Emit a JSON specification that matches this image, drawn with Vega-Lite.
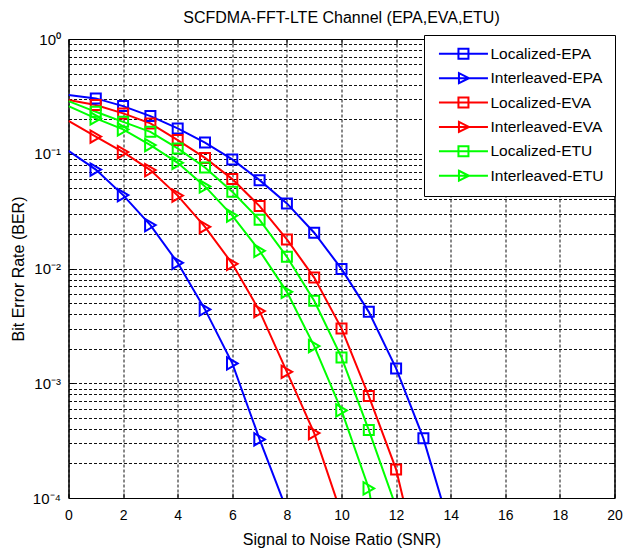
{
  "$schema": "https://vega.github.io/schema/vega-lite/v6.json",
  "width": 546,
  "height": 459,
  "autosize": {"type": "none"},
  "padding": {"left": 68.5, "top": 39, "right": 10.5, "bottom": 50},
  "background": "white",
  "title": {
    "text": "SCFDMA-FFT-LTE Channel (EPA,EVA,ETU)",
    "font": "Liberation Sans",
    "fontSize": 16,
    "fontWeight": "normal",
    "color": "black",
    "anchor": "middle",
    "frame": "group",
    "baseline": "bottom",
    "offset": 13,
    "dy": 23
  },
  "config": {
    "view": {"stroke": "black", "strokeWidth": 1},
    "font": "Liberation Sans",
    "axis": {
      "labelFont": "Liberation Sans",
      "titleFont": "Liberation Sans",
      "labelColor": "black",
      "titleColor": "black",
      "domainColor": "black",
      "tickColor": "black",
      "gridColor": "#111111",
      "gridDash": [3, 2],
      "gridWidth": 1,
      "gridOpacity": 1,
      "labelFontSize": 14,
      "titleFontSize": 16,
      "titleFontWeight": "normal"
    }
  },
  "data": {
    "values": [
      {"s": "Localized-EPA", "snr": 0, "ber": 0.3245},
      {"s": "Localized-EPA", "snr": 1, "ber": 0.3037},
      {"s": "Localized-EPA", "snr": 2, "ber": 0.2602},
      {"s": "Localized-EPA", "snr": 3, "ber": 0.2129},
      {"s": "Localized-EPA", "snr": 4, "ber": 0.1663},
      {"s": "Localized-EPA", "snr": 5, "ber": 0.1251},
      {"s": "Localized-EPA", "snr": 6, "ber": 0.0893},
      {"s": "Localized-EPA", "snr": 7, "ber": 0.0589},
      {"s": "Localized-EPA", "snr": 8, "ber": 0.0369},
      {"s": "Localized-EPA", "snr": 9, "ber": 0.0205},
      {"s": "Localized-EPA", "snr": 10, "ber": 0.00992},
      {"s": "Localized-EPA", "snr": 11, "ber": 0.00419},
      {"s": "Localized-EPA", "snr": 12, "ber": 0.001347},
      {"s": "Localized-EPA", "snr": 13, "ber": 0.000331},
      {"s": "Localized-EPA", "snr": 14, "ber": 0.000052},

      {"s": "Interleaved-EPA", "snr": 0, "ber": 0.1061},
      {"s": "Interleaved-EPA", "snr": 1, "ber": 0.0728},
      {"s": "Interleaved-EPA", "snr": 2, "ber": 0.0436},
      {"s": "Interleaved-EPA", "snr": 3, "ber": 0.02388},
      {"s": "Interleaved-EPA", "snr": 4, "ber": 0.01121},
      {"s": "Interleaved-EPA", "snr": 5, "ber": 0.0044},
      {"s": "Interleaved-EPA", "snr": 6, "ber": 0.001489},
      {"s": "Interleaved-EPA", "snr": 7, "ber": 0.000324},
      {"s": "Interleaved-EPA", "snr": 8, "ber": 0.000078},

      {"s": "Localized-EVA", "snr": 0, "ber": 0.2935},
      {"s": "Localized-EVA", "snr": 1, "ber": 0.2655},
      {"s": "Localized-EVA", "snr": 2, "ber": 0.2247},
      {"s": "Localized-EVA", "snr": 3, "ber": 0.1839},
      {"s": "Localized-EVA", "snr": 4, "ber": 0.1315},
      {"s": "Localized-EVA", "snr": 5, "ber": 0.092},
      {"s": "Localized-EVA", "snr": 6, "ber": 0.0601},
      {"s": "Localized-EVA", "snr": 7, "ber": 0.035},
      {"s": "Localized-EVA", "snr": 8, "ber": 0.01793},
      {"s": "Localized-EVA", "snr": 9, "ber": 0.00833},
      {"s": "Localized-EVA", "snr": 10, "ber": 0.003006},
      {"s": "Localized-EVA", "snr": 11, "ber": 0.000773},
      {"s": "Localized-EVA", "snr": 12, "ber": 0.0001775},
      {"s": "Localized-EVA", "snr": 13, "ber": 0.000018},

      {"s": "Interleaved-EVA", "snr": 0, "ber": 0.1937},
      {"s": "Interleaved-EVA", "snr": 1, "ber": 0.1411},
      {"s": "Interleaved-EVA", "snr": 2, "ber": 0.1034},
      {"s": "Interleaved-EVA", "snr": 3, "ber": 0.072},
      {"s": "Interleaved-EVA", "snr": 4, "ber": 0.0432},
      {"s": "Interleaved-EVA", "snr": 5, "ber": 0.02309},
      {"s": "Interleaved-EVA", "snr": 6, "ber": 0.01099},
      {"s": "Interleaved-EVA", "snr": 7, "ber": 0.004254},
      {"s": "Interleaved-EVA", "snr": 8, "ber": 0.001258},
      {"s": "Interleaved-EVA", "snr": 9, "ber": 0.000368},
      {"s": "Interleaved-EVA", "snr": 10, "ber": 0.000072},

      {"s": "Localized-ETU", "snr": 0, "ber": 0.2877},
      {"s": "Localized-ETU", "snr": 1, "ber": 0.232},
      {"s": "Localized-ETU", "snr": 2, "ber": 0.1898},
      {"s": "Localized-ETU", "snr": 3, "ber": 0.1553},
      {"s": "Localized-ETU", "snr": 4, "ber": 0.1113},
      {"s": "Localized-ETU", "snr": 5, "ber": 0.076},
      {"s": "Localized-ETU", "snr": 6, "ber": 0.0466},
      {"s": "Localized-ETU", "snr": 7, "ber": 0.02657},
      {"s": "Localized-ETU", "snr": 8, "ber": 0.01265},
      {"s": "Localized-ETU", "snr": 9, "ber": 0.00523},
      {"s": "Localized-ETU", "snr": 10, "ber": 0.00168},
      {"s": "Localized-ETU", "snr": 11, "ber": 0.000391},
      {"s": "Localized-ETU", "snr": 12, "ber": 0.000083},

      {"s": "Interleaved-ETU", "snr": 0, "ber": 0.2602},
      {"s": "Interleaved-ETU", "snr": 1, "ber": 0.2033},
      {"s": "Interleaved-ETU", "snr": 2, "ber": 0.163},
      {"s": "Interleaved-ETU", "snr": 3, "ber": 0.119},
      {"s": "Interleaved-ETU", "snr": 4, "ber": 0.0834},
      {"s": "Interleaved-ETU", "snr": 5, "ber": 0.0519},
      {"s": "Interleaved-ETU", "snr": 6, "ber": 0.0289},
      {"s": "Interleaved-ETU", "snr": 7, "ber": 0.01426},
      {"s": "Interleaved-ETU", "snr": 8, "ber": 0.00626},
      {"s": "Interleaved-ETU", "snr": 9, "ber": 0.002107},
      {"s": "Interleaved-ETU", "snr": 10, "ber": 0.00058},
      {"s": "Interleaved-ETU", "snr": 11, "ber": 0.0001213},
      {"s": "Interleaved-ETU", "snr": 12, "ber": 0.000005}
    ]
  },
  "layer": [
    {
      "mark": {"type": "line", "clip": true, "strokeWidth": 2},
      "encoding": {
        "x": {
          "field": "snr",
          "type": "quantitative",
          "scale": {"domain": [0, 20], "nice": false},
          "axis": {
            "orient": "bottom",
            "values": [0, 2, 4, 6, 8, 10, 12, 14, 16, 18, 20],
            "grid": true,
            "tickSize": -5,
            "labelPadding": 15,
            "labelFlush": false,
            "title": "Signal to Noise Ratio (SNR)",
            "titlePadding": 9
          }
        },
        "y": {
          "field": "ber",
          "type": "quantitative",
          "scale": {"type": "log", "domain": [0.0001, 1], "nice": false},
          "axis": {
            "orient": "left",
            "values": [0.0001, 0.0002, 0.0003, 0.0004, 0.0005, 0.0006, 0.0007, 0.0008, 0.0009,
                       0.001, 0.002, 0.003, 0.004, 0.005, 0.006, 0.007, 0.008, 0.009,
                       0.01, 0.02, 0.03, 0.04, 0.05, 0.06, 0.07, 0.08, 0.09,
                       0.1, 0.2, 0.3, 0.4, 0.5, 0.6, 0.7, 0.8, 0.9, 1],
            "labelExpr": "abs(log(datum.value)/LN10 - round(log(datum.value)/LN10)) > 0.01 ? '' : ['10⁰','10⁻¹','10⁻²','10⁻³','10⁻⁴'][-round(log(datum.value)/LN10)]",
            "labelOverlap": false,
            "labelBound": false,
            "labelFlush": false,
            "labelPadding": 13,
            "labelFontSize": 15,
            "grid": true,
            "tickSize": {"condition": {"test": "abs(log(datum.value)/LN10 - round(log(datum.value)/LN10)) < 0.01", "value": -5}, "value": -3},
            "title": "Bit Error Rate (BER)",
            "titlePadding": 6
          }
        },
        "color": {
          "field": "s",
          "type": "nominal",
          "scale": {
            "domain": ["Localized-EPA", "Interleaved-EPA", "Localized-EVA", "Interleaved-EVA", "Localized-ETU", "Interleaved-ETU"],
            "range": ["#0000FF", "#0000FF", "#FF0000", "#FF0000", "#00FF00", "#00FF00"]
          },
          "legend": {
            "title": null,
            "orient": "none",
            "legendX": 355.5,
            "legendY": -4,
            "labelFont": "Liberation Sans",
            "labelFontSize": 15.5,
            "labelColor": "black",
            "strokeColor": "black",
            "fillColor": "white",
            "padding": 11,
            "rowPadding": 5.4,
            "symbolSize": 100,
            "symbolStrokeWidth": 2,
            "symbolOffset": 20.7,
            "labelOffset": 19.3,
            "encode": {
              "symbols": {
                "update": {
                  "shape": {"signal": "indexof(datum.value, 'Interleaved') >= 0 ? 'M-4.9,0H4.9M-0.9,-1L1.1,0L-0.9,1Z' : 'M-4.9,0H4.9M-1,-1H1V1H-1Z'"},
                  "fill": {"value": "transparent"},
                  "stroke": {"scale": "color", "field": "value"},
                  "strokeWidth": {"value": 2},
                  "opacity": {"value": 1}
                }
              }
            }
          }
        }
      }
    },
    {
      "transform": [{"filter": "datum.snr >= 1"}],
      "mark": {"type": "point", "clip": true, "filled": false, "strokeWidth": 2, "opacity": 1},
      "encoding": {
        "x": {
          "field": "snr",
          "type": "quantitative",
          "axis": {
            "orient": "top",
            "values": [0, 2, 4, 6, 8, 10, 12, 14, 16, 18, 20],
            "labels": false,
            "grid": false,
            "tickSize": -5,
            "title": null
          }
        },
        "y": {
          "field": "ber",
          "type": "quantitative",
          "axis": {
            "orient": "right",
            "values": [0.0001, 0.0002, 0.0003, 0.0004, 0.0005, 0.0006, 0.0007, 0.0008, 0.0009,
                       0.001, 0.002, 0.003, 0.004, 0.005, 0.006, 0.007, 0.008, 0.009,
                       0.01, 0.02, 0.03, 0.04, 0.05, 0.06, 0.07, 0.08, 0.09,
                       0.1, 0.2, 0.3, 0.4, 0.5, 0.6, 0.7, 0.8, 0.9, 1],
            "labels": false,
            "grid": false,
            "tickSize": {"condition": {"test": "abs(log(datum.value)/LN10 - round(log(datum.value)/LN10)) < 0.01", "value": -5}, "value": -3},
            "title": null
          }
        },
        "color": {"field": "s", "type": "nominal"},
        "shape": {
          "condition": {"test": "indexof(datum.s, 'Interleaved') >= 0", "value": "triangle-right"},
          "value": "square"
        },
        "size": {
          "condition": {"test": "indexof(datum.s, 'Interleaved') >= 0", "value": 150},
          "value": 100
        }
      }
    }
  ],
  "resolve": {"axis": {"x": "independent", "y": "independent"}}
}
